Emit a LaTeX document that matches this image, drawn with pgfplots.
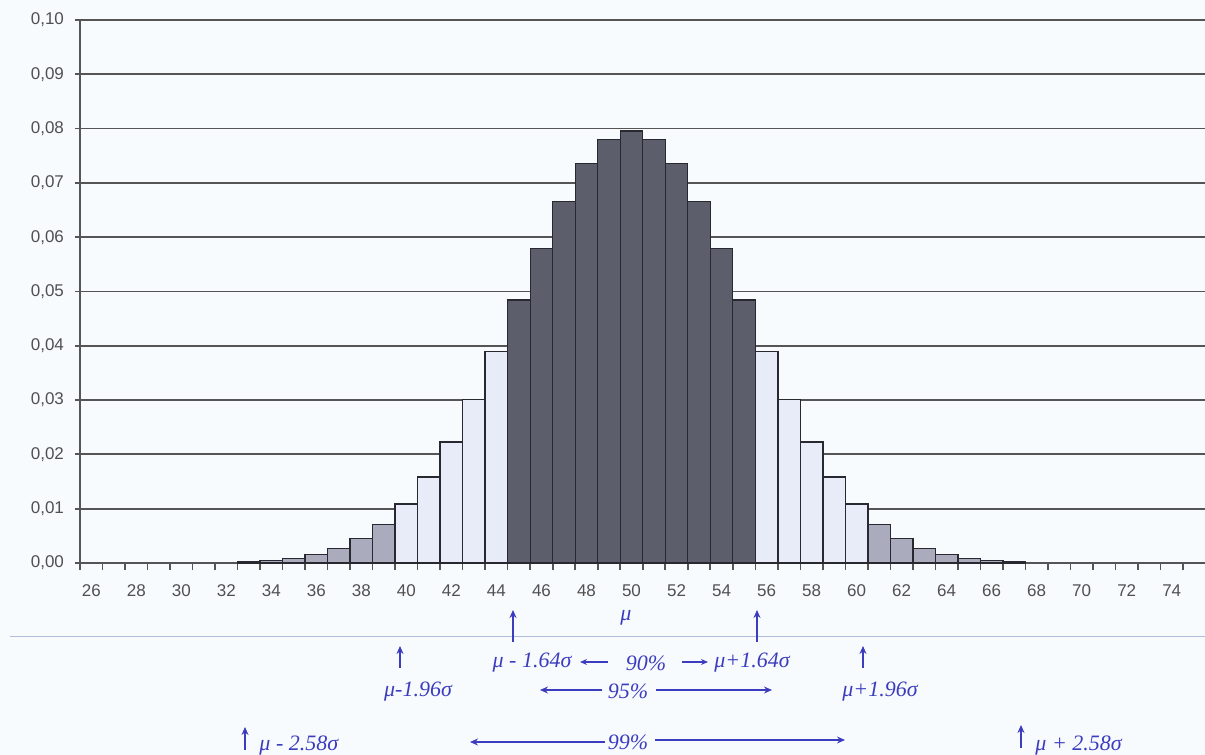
\documentclass[border=0pt]{standalone}
\usepackage{pgfplots}
\pgfplotsset{compat=1.18}
\usepackage{fontspec}
\setmainfont{Liberation Sans}
\newfontfamily\hand{Liberation Serif}
\usetikzlibrary{arrows.meta}
\definecolor{bgcol}{RGB}{248,251,254}
\definecolor{darkbar}{RGB}{92,94,108}
\definecolor{midbar}{RGB}{170,172,190}
\definecolor{lightbar}{RGB}{232,236,248}
\definecolor{barline}{RGB}{40,40,48}
\definecolor{gridcol}{RGB}{85,85,85}
\definecolor{ticktext}{RGB}{80,80,80}
\definecolor{ink}{RGB}{60,60,190}
\definecolor{paperline}{RGB}{180,188,215}
\begin{document}
\begin{tikzpicture}
\useasboundingbox (0,0) rectangle (602.5pt,377.5pt);
\fill[bgcol] (0,0) rectangle (602.5pt,377.5pt);
\begin{axis}[
  at={(40pt,96pt)}, anchor=south west,
  scale only axis, width=562.75pt, height=271.5pt,
  xmin=25.5, xmax=75.5, ymin=0, ymax=0.10,
  axis x line*=bottom, axis y line*=left,
  axis line style={draw=gridcol, line width=0.8pt},
  ymajorgrids, major grid style={draw=gridcol, line width=0.9pt},
  ytick={0,0.01,0.02,0.03,0.04,0.05,0.06,0.07,0.08,0.09,0.10},
  yticklabel style={/pgf/number format/fixed, /pgf/number format/fixed zerofill, /pgf/number format/precision=2, /pgf/number format/use comma, /pgf/number format/assume math mode=true, font=\fontsize{8.5}{10}\selectfont, text=ticktext, xshift=-2pt},
  ytick style={draw=gridcol, line width=0.9pt},
  major tick length=2.5pt,
  tick align=outside,
  xtick={26,28,...,74},
  x tick style={draw=none},
  minor xtick={25.5,26.5,...,75.5},
  minor x tick style={draw=gridcol, line width=0.8pt},
  minor tick length=3.5pt,
  xticklabel style={font=\fontsize{8.5}{10}\selectfont, text=ticktext, /pgf/number format/assume math mode=true, yshift=-5pt},
  clip=false,
]
\addplot[ybar, bar width=1, bar shift=0pt, fill=midbar, draw=barline, line width=0.7pt] coordinates {
(33,0.00023) (34,0.00046) (35,0.00086) (36,0.00156) (37,0.00270) (38,0.00447) (39,0.00711)
(61,0.00711) (62,0.00447) (63,0.00270) (64,0.00156) (65,0.00086) (66,0.00046) (67,0.00023)};
\addplot[ybar, bar width=1, bar shift=0pt, fill=lightbar, draw=barline, line width=0.7pt] coordinates {
(40,0.01084) (41,0.01587) (42,0.02229) (43,0.03007) (44,0.03895)
(56,0.03895) (57,0.03007) (58,0.02229) (59,0.01587) (60,0.01084)};
\addplot[ybar, bar width=1, bar shift=0pt, fill=darkbar, draw=barline, line width=0.7pt] coordinates {
(45,0.04847) (46,0.05796) (47,0.06659) (48,0.07353) (49,0.07803) (50,0.07959)
(51,0.07803) (52,0.07353) (53,0.06659) (54,0.05796) (55,0.04847)};
\end{axis}
\begin{scope}[x=0.5pt,y=-0.5pt,shift={(0pt,377.5pt)}]
\draw[paperline, line width=0.5pt] (10,637) -- (1205,637);
\begin{scope}[ink, line width=0.8pt, font=\hand\itshape\fontsize{11}{12}\selectfont]
\node at (626,618) {μ};
\draw[-{Stealth[length=4pt,width=3.5pt]}] (513,642) -- (513,610);
\draw[-{Stealth[length=4pt,width=3.5pt]}] (757,642) -- (757,610);
\node at (532,663) {μ - 1.64σ};
\draw[-{Stealth[length=3.5pt,width=3pt]}] (608,662) -- (580,662);
\node at (646,663) {90\%};
\draw[-{Stealth[length=3.5pt,width=3pt]}] (682,662) -- (708,662);
\node at (752,663) {μ+1.64σ};
\draw[-{Stealth[length=4pt,width=3.5pt]}] (400,668) -- (400,646);
\draw[-{Stealth[length=4pt,width=3.5pt]}] (863,668) -- (863,646);
\node at (418,692) {μ-1.96σ};
\node at (880,692) {μ+1.96σ};
\draw[-{Stealth[length=4pt,width=3.5pt]}] (602,690) -- (540,690);
\node at (628,691) {95\%};
\draw[-{Stealth[length=4pt,width=3.5pt]}] (656,690) -- (772,690);
\draw[-{Stealth[length=4pt,width=3.5pt]}] (245,750) -- (245,727);
\node[anchor=west] at (252,746) {μ - 2.58σ};
\draw[-{Stealth[length=4pt,width=3.5pt]}] (605,742) -- (470,742);
\node at (628,742) {99\%};
\draw[-{Stealth[length=4pt,width=3.5pt]}] (655,740) -- (845,740);
\draw[-{Stealth[length=4pt,width=3.5pt]}] (1021,748) -- (1021,725);
\node[anchor=west] at (1028,746) {μ + 2.58σ};
\end{scope}
\end{scope}
\end{tikzpicture}
\end{document}
